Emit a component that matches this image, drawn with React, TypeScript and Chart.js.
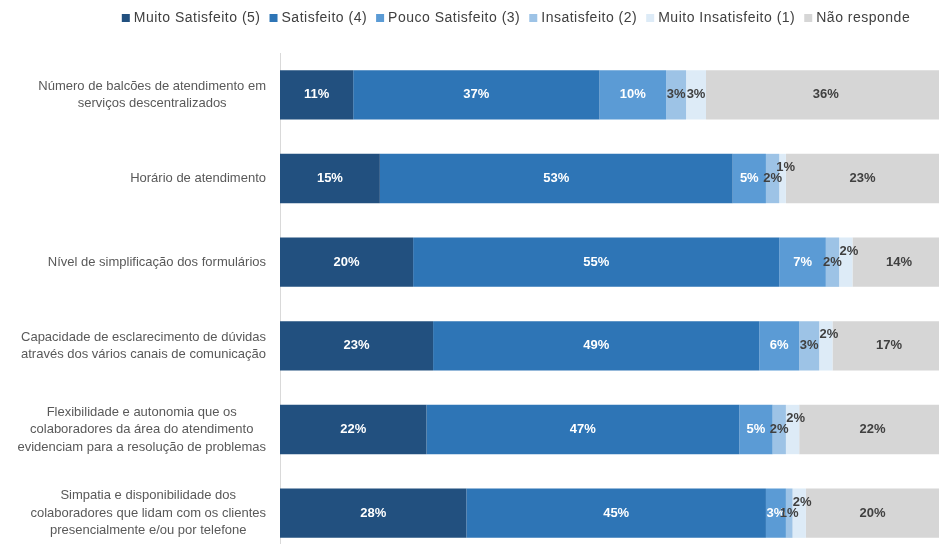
import React, { useEffect, useRef } from 'react';
import { Chart, registerables } from 'chart.js';

Chart.register(...registerables);

const categories: string[][] = [
  ['Número de balcões de atendimento em', 'serviços descentralizados'],
  ['Horário de atendimento'],
  ['Nível de simplificação dos formulários'],
  ['Capacidade de esclarecimento de dúvidas', 'através dos vários canais de comunicação'],
  ['Flexibilidade e autonomia que os', 'colaboradores da área do atendimento', 'evidenciam para a resolução de problemas'],
  ['Simpatia e disponibilidade dos', 'colaboradores que lidam com os clientes', 'presencialmente e/ou por telefone'],
];

const seriesNames = [
  'Muito Satisfeito (5)',
  'Satisfeito (4)',
  'Pouco Satisfeito (3)',
  'Insatisfeito (2)',
  'Muito Insatisfeito (1)',
  'Não responde',
];

const muitoSatisfeito = [11, 15, 20, 23, 22, 28];
const satisfeito = [37, 53, 55, 49, 47, 45];
const poucoSatisfeito = [10, 5, 7, 6, 5, 3];
const insatisfeito = [3, 2, 2, 3, 2, 1];
const muitoInsatisfeito = [3, 1, 2, 2, 2, 2];
const naoResponde = [36, 23, 14, 17, 22, 20];

const seriesValues = [muitoSatisfeito, satisfeito, poucoSatisfeito, insatisfeito, muitoInsatisfeito, naoResponde];
const seriesColors = ['#22507F', '#2E75B6', '#5B9BD5', '#9DC3E6', '#DDEBF7', '#D6D6D6'];
const labelColors = ['#FFFFFF', '#FFFFFF', '#FFFFFF', '#404040', '#404040', '#404040'];

const FONT = '"Liberation Sans", Arial, sans-serif';

const drawPlugin = {
  id: 'customDraw',
  afterDatasetsDraw(chart: any) {
    const ctx = chart.ctx;
    ctx.save();
    ctx.font = `bold 13px ${FONT}`;
    ctx.textAlign = 'center';
    ctx.textBaseline = 'middle';
    chart.data.datasets.forEach((ds: any, di: number) => {
      const meta = chart.getDatasetMeta(di);
      meta.data.forEach((el: any, i: number) => {
        const v = ds.data[i];
        const p = el.getProps(['x', 'base', 'y'], true);
        let cx = (p.x + p.base) / 2;
        let cy = p.y;
        if (di === 4 && v < 3) {
          cy -= 11;
          cx += 3;
        }
        ctx.fillStyle = labelColors[di];
        ctx.fillText(`${v}%`, cx, cy);
      });
    });
    ctx.restore();
  },
  afterDraw(chart: any) {
    const ctx = chart.ctx;
    ctx.save();
    // category labels
    ctx.font = `13px ${FONT}`;
    (ctx as any).letterSpacing = '0px';
    ctx.fillStyle = '#595959';
    ctx.textAlign = 'center';
    ctx.textBaseline = 'middle';
    const yScale = chart.scales.y;
    const lineH = 17.5;
    categories.forEach((lines, i) => {
      const yc = yScale.getPixelForValue(i);
      const widest = Math.max(...lines.map((l) => ctx.measureText(l).width));
      const cx = 266 - widest / 2;
      lines.forEach((l, k) => {
        ctx.fillText(l, cx, yc + (k - (lines.length - 1) / 2) * lineH);
      });
    });
    // legend
    ctx.font = `14px ${FONT}`;
    (ctx as any).letterSpacing = '0.5px';
    ctx.textAlign = 'left';
    const box = 8;
    const gapBox = 4;
    const gapItem = 9;
    const widths = seriesNames.map((n) => box + gapBox + ctx.measureText(n).width);
    const total = widths.reduce((a, b) => a + b, 0) + gapItem * (widths.length - 1);
    let x = 516 - total / 2;
    const ly = 18;
    seriesNames.forEach((n, i) => {
      ctx.fillStyle = seriesColors[i];
      ctx.fillRect(x, ly - box / 2, box, box);
      ctx.fillStyle = '#404040';
      ctx.fillText(n, x + box + gapBox, ly);
      x += widths[i] + gapItem;
    });
    ctx.restore();
  },
};

export default function App() {
  const ref = useRef<HTMLCanvasElement | null>(null);
  useEffect(() => {
    if (!ref.current) return;
    const chart = new Chart(ref.current, {
      type: 'bar',
      data: {
        labels: categories.map((c) => c.join(' ')),
        datasets: seriesNames.map((name, i) => ({
          label: name,
          data: seriesValues[i],
          backgroundColor: seriesColors[i],
          borderWidth: 0,
          barPercentage: 0.59,
          categoryPercentage: 1,
        })),
      },
      options: {
        indexAxis: 'y',
        animation: false,
        responsive: false,
        layout: { padding: { top: 53, right: 0, bottom: 1, left: 0 } },
        plugins: {
          legend: { display: false },
          tooltip: { enabled: false },
        },
        scales: {
          x: { stacked: true, display: false, min: 0, max: 99 },
          y: {
            stacked: true,
            ticks: { display: false },
            grid: { display: false },
            border: { color: '#D9D9D9', width: 1 },
            afterFit: (s: any) => {
              s.width = 280;
            },
          },
        },
      },
      plugins: [drawPlugin],
    });
    return () => chart.destroy();
  }, []);
  return (
    <div style={{ position: 'fixed', left: 0, top: 0, width: 939, height: 544, overflow: 'hidden', background: '#fff' }}>
      <canvas ref={ref} width={939} height={556} style={{ display: 'block' }} />
    </div>
  );
}
